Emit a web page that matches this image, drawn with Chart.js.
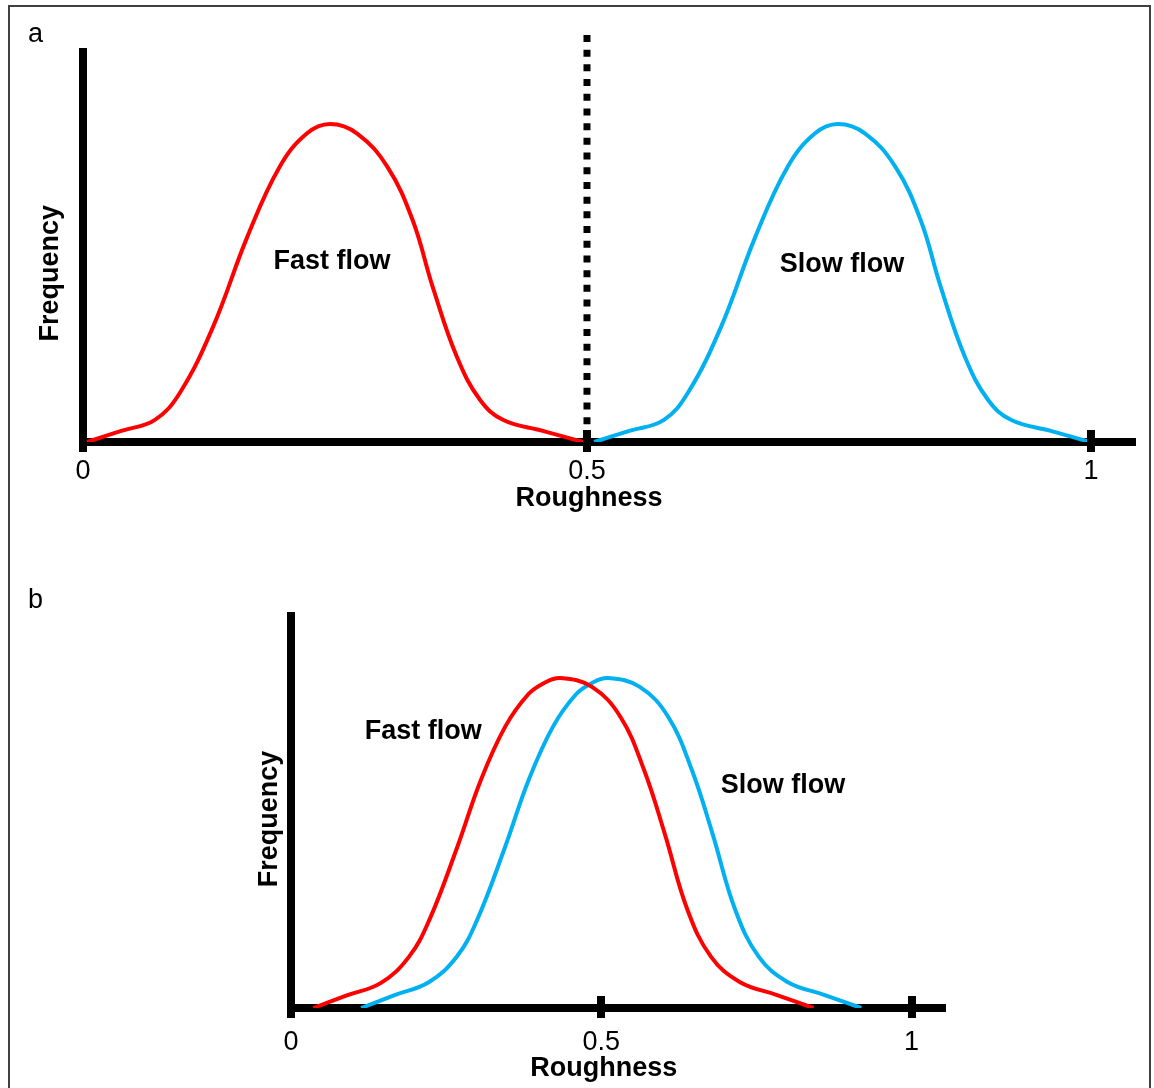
<!DOCTYPE html>
<html>
<head>
<meta charset="utf-8">
<script src="https://cdn.jsdelivr.net/npm/chart.js@4.4.1/dist/chart.umd.min.js"></script>
<style>
    html, body { margin:0; padding:0; background:#fff; }
    body { width:1154px; height:1088px; position:relative; overflow:hidden; }
    .frame { position:absolute; left:8px; top:5px; width:1139px; height:1100px; border:2px solid #404040; }
    canvas { position:absolute; left:0; }
    #panel-a { top:0; }
    #panel-b { top:544px; }
</style>
</head>
<body>
<div class="frame"></div>
<canvas id="panel-a" width="1154" height="544"></canvas>
<canvas id="panel-b" width="1154" height="544"></canvas>
<script>
// Roughness ticks shared by both panels
const tickValues = [0, 0.5, 1];

// Panel a: separated distributions
const aFastX = [0.004, 0.038, 0.071, 0.096, 0.129, 0.163, 0.195, 0.222, 0.245, 0.272, 0.302, 0.327, 0.347, 0.371, 0.394, 0.417, 0.456, 0.496];
const aFastY = [0, 0.035, 0.069, 0.154, 0.362, 0.645, 0.865, 0.97, 1.0, 0.97, 0.865, 0.698, 0.487, 0.267, 0.132, 0.069, 0.035, 0];
const aSlowX = [0.507, 0.542, 0.576, 0.600, 0.633, 0.667, 0.699, 0.726, 0.749, 0.776, 0.806, 0.831, 0.851, 0.875, 0.898, 0.921, 0.960, 0.999];
const aSlowY = [0, 0.035, 0.069, 0.154, 0.362, 0.645, 0.865, 0.97, 1.0, 0.97, 0.865, 0.698, 0.487, 0.267, 0.132, 0.069, 0.035, 0];
const aSplitX = [0.5, 0.5];
const aSplitY = [1.28, 0];

// Panel b: overlapping distributions
const bFastX = [0.036, 0.090, 0.145, 0.190, 0.223, 0.268, 0.306, 0.345, 0.382, 0.408, 0.434, 0.485, 0.531, 0.569, 0.602, 0.639, 0.677, 0.723, 0.782, 0.842];
const bFastY = [0, 0.038, 0.076, 0.155, 0.267, 0.488, 0.691, 0.852, 0.950, 0.985, 1.0, 0.973, 0.882, 0.721, 0.530, 0.297, 0.155, 0.079, 0.040, 0];
const bSlowX = [0.113, 0.167, 0.222, 0.267, 0.300, 0.345, 0.383, 0.422, 0.459, 0.485, 0.511, 0.562, 0.608, 0.646, 0.679, 0.716, 0.754, 0.800, 0.859, 0.919];
const bSlowY = [0, 0.039, 0.078, 0.155, 0.267, 0.488, 0.691, 0.852, 0.950, 0.985, 1.0, 0.973, 0.882, 0.721, 0.530, 0.297, 0.155, 0.079, 0.040, 0];

const RED = '#ff0000';
const BLUE = '#00b0f0';
const FONT = '"Liberation Sans", Arial, sans-serif';

function pts(xs, ys){ return xs.map((x, i) => ({ x, y: ys[i] })); }

function curve(xs, ys, color){
    return { data: pts(xs, ys), borderColor: color, borderWidth: 4, tension: 0.4, pointRadius: 0, fill: false };
}

// axis titles, tick caps above the axis, curve names and panel letter
const decor = {
    id: 'decor',
    afterDraw(chart, args, o){
        const { ctx } = chart;
        const x = chart.scales.x, y = chart.scales.y;
        const axisY = y.getPixelForValue(0);
        const axisX = x.getPixelForValue(0);
        ctx.save();
        ctx.fillStyle = '#000';
        tickValues.filter(v => v > 0).forEach(v => {
            ctx.fillRect(Math.round(x.getPixelForValue(v)) - 4, axisY - 12, 8, 12);
        });

        ctx.font = `bold 27px ${FONT}`;
        ctx.textAlign = 'center';
        ctx.textBaseline = 'alphabetic';
        o.notes.forEach(n => ctx.fillText(n.text, x.getPixelForValue(n.x), y.getPixelForValue(n.y)));

        ctx.fillText('Roughness', x.getPixelForValue(o.xTitle.x), axisY + o.xTitle.dy);

        ctx.save();
        ctx.translate(axisX + o.yTitle.dx, y.getPixelForValue(o.yTitle.y));
        ctx.rotate(-Math.PI / 2);
        ctx.fillText('Frequency', 0, 0);
        ctx.restore();

        ctx.font = `27px ${FONT}`;
        ctx.textAlign = 'left';
        ctx.fillText(o.letter.text, o.letter.left, o.letter.baseline);
        ctx.restore();
    }
};

function buildChart(id, cfg){
    return new Chart(document.getElementById(id), {
        type: 'line',
        data: { datasets: cfg.datasets },
        options: {
            responsive: false,
            animation: false,
            devicePixelRatio: 1,
            layout: { padding: cfg.padding },
            plugins: { legend: { display: false }, tooltip: { enabled: false }, decor: cfg.decor },
            scales: {
                x: {
                    type: 'linear', min: 0, max: cfg.xMax, z: 1,
                    afterFit: s => { s.height = cfg.xHeight; },
                    afterBuildTicks: s => { s.ticks = tickValues.map(v => ({ value: v })); },
                    ticks: { color: '#000', font: { family: FONT, size: 27 }, padding: cfg.tickPad, maxRotation: 0, callback: v => String(v) },
                    grid: { display: true, drawOnChartArea: false, drawTicks: true, tickLength: 10, lineWidth: 8, color: '#000' },
                    border: { display: true, width: 8, color: '#000' }
                },
                y: {
                    type: 'linear', min: 0, max: cfg.yMax, z: 1,
                    afterFit: s => { s.width = cfg.yWidth; },
                    ticks: { display: false },
                    grid: { display: false, lineWidth: 8 },
                    border: { display: true, width: 8, color: '#000' }
                }
            }
        },
        plugins: [decor]
    });
}

buildChart('panel-a', {
    datasets: [
        curve(aFastX, aFastY, RED),
        curve(aSlowX, aSlowY, BLUE),
        { data: pts(aSplitX, aSplitY), borderColor: '#000', borderWidth: 7, borderDash: [7, 7.7], pointRadius: 0, clip: false }
    ],
    padding: { left: 0, top: 52, right: 22, bottom: 0 },
    yWidth: 83, xHeight: 102, xMax: 1.0407, yMax: 1.2264, tickPad: 3,
    decor: {
        notes: [ { text: 'Fast flow', x: 0.247, y: 0.544 }, { text: 'Slow flow', x: 0.753, y: 0.535 } ],
        xTitle: { x: 0.502, dy: 64 },
        yTitle: { y: 0.531, dx: -25 },
        letter: { text: 'a', left: 28, baseline: 42 }
    }
});

buildChart('panel-b', {
    datasets: [
        curve(bFastX, bFastY, RED),
        curve(bSlowX, bSlowY, BLUE)
    ],
    padding: { left: 0, top: 72, right: 212, bottom: 0 },
    yWidth: 291, xHeight: 80, xMax: 1.0491, yMax: 1.1879, tickPad: 8,
    decor: {
        notes: [ { text: 'Fast flow', x: 0.213, y: 0.815 }, { text: 'Slow flow', x: 0.793, y: 0.652 } ],
        xTitle: { x: 0.504, dy: 68 },
        yTitle: { y: 0.573, dx: -14 },
        letter: { text: 'b', left: 28, baseline: 64 }
    }
});
</script>
</body>
</html>
